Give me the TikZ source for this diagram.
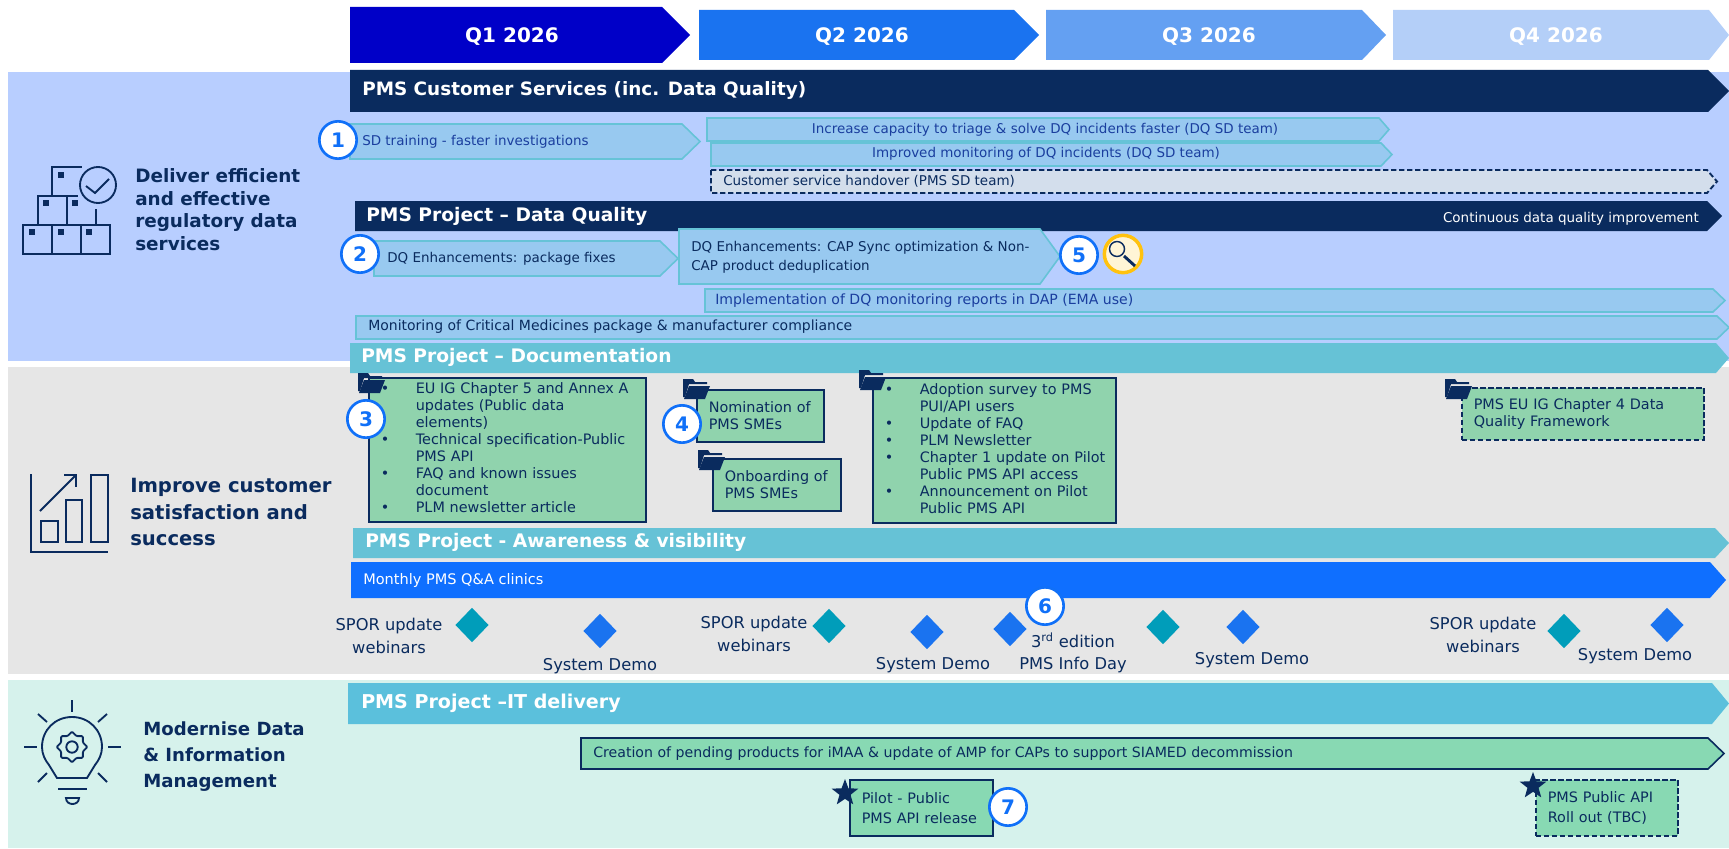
\documentclass[tikz,border=0pt]{standalone}
\usepackage{fontspec}
\setmainfont{DejaVu Sans}
\usetikzlibrary{shapes.geometric}
\definecolor{navy}{HTML}{0A2B5E}
\definecolor{bandblue}{HTML}{B8CEFF}
\definecolor{bandgrey}{HTML}{E6E6E6}
\definecolor{bandmint}{HTML}{D6F2EC}
\definecolor{qone}{HTML}{0000C8}
\definecolor{qtwo}{HTML}{1A73F0}
\definecolor{qthree}{HTML}{64A0F2}
\definecolor{qfour}{HTML}{B4CFF8}
\definecolor{skyfill}{HTML}{98C9F0}
\definecolor{skyline}{HTML}{66C3D7}
\definecolor{taskblue}{HTML}{1A3E9E}
\definecolor{handover}{HTML}{D3DEEC}
\definecolor{tealbar}{HTML}{66C2D6}
\definecolor{itbar}{HTML}{5BC0DC}
\definecolor{clinicbar}{HTML}{0F6FFF}
\definecolor{greenbox}{HTML}{90D3AD}
\definecolor{greenbar}{HTML}{88D9B3}
\definecolor{tealdiam}{HTML}{009DBA}
\definecolor{numblue}{HTML}{1070F8}
\definecolor{lensfill}{HTML}{FFF5D6}
\definecolor{lensline}{HTML}{FFC20E}
\newcommand{\arrowbar}[6]{\draw[#1] (#2,#5) -- (#3,#5) -- (#4,{(#5+#6)/2}) -- (#3,#6) -- (#2,#6) -- cycle;}
\tikzset
{
    quarter/.style = {anchor=center, text=white, font=\fontsize{15}{18}\selectfont\bfseries},
    bartitle/.style = {anchor=west, inner sep=0pt, text=white, font=\fontsize{14}{17}\selectfont\bfseries},
    goal/.style = {anchor=west, inner sep=0pt, align=left, text=navy, font=\fontsize{13.8}{#1}\selectfont\bfseries},
    task/.style = {anchor=west, inner sep=0pt, yshift=-1.2pt, align=left, text=navy, font=\fontsize{10.1}{14.2}\selectfont},
    tasksize/.style = {font=\fontsize{#1}{14.2}\selectfont},
    bluetask/.style = {task, text=taskblue},
    skybar/.style = {fill=skyfill, draw=skyline, line width=1.2pt},
    plainbar/.style = {fill=#1, draw=none},
    greenitem/.style = {rectangle, anchor=north west, inner xsep=9pt, inner ysep=0pt, align=left, fill=greenbox, draw=navy, line width=1.2pt, text=navy, font=\fontsize{10.8}{12.75}\selectfont},
    boxsize/.style 2 args = {text width=#1*0.75pt-18pt, minimum height=#2*0.75pt},
    dashline/.style = {dash pattern=on 4pt off 2pt},
    numcircle/.style = {circle, draw=numblue, line width=2pt, fill=white, text=numblue, inner sep=0pt, minimum size=28pt, font=\fontsize{15}{18}\selectfont\bfseries},
    milestone/.style = {diamond, inner sep=0pt, minimum width=25pt, minimum height=26pt, fill=#1},
    eventlabel/.style = {anchor=center, inner sep=0pt, align=center, text=navy, font=\fontsize{12.2}{17}\selectfont},
    iconline/.style = {draw=navy, line width=1.4pt},
    square/.style = {rectangle, fill=navy, inner sep=0pt, minimum size=3.8pt},
    launch/.style = {star, star points=5, star point ratio=2.4, fill=navy, inner sep=0pt, minimum size=21pt},
    folder/.pic = {
        \fill[navy] (0,0) -- (10,0) -- (12,3) -- (24,3) -- (24,5) -- (6,5) -- (2,18) -- (0,18) -- cycle;
        \fill[navy] (6,7) -- (27,7) -- (22,20) -- (1,20) -- cycle;
    }
}

\begin{document}
\begin{tikzpicture}[x=0.75pt, y=-0.75pt]
\useasboundingbox (0,0) rectangle (1729,849);
% bands
\fill[bandblue] (8,72) rectangle (1729,361);
\fill[bandgrey] (8,367) rectangle (1729,674);
\fill[bandmint] (8,680) rectangle (1729,848);

% quarters
\arrowbar{plainbar=qone}{350}{662}{690}{7}{63}
\arrowbar{plainbar=qtwo}{699}{1014}{1039}{10}{60}
\arrowbar{plainbar=qthree}{1046}{1362}{1386}{10}{60}
\arrowbar{plainbar=qfour}{1393}{1709}{1729}{10}{60}
\node[quarter] (q1) at (512,37) {Q1 2026};
\node[quarter] (q2) at (862,37) {Q2 2026};
\node[quarter] (q3) at (1209,37) {Q3 2026};
\node[quarter] (q4) at (1556,37) {Q4 2026};

% customer services
\arrowbar{plainbar=navy}{350}{1708}{1729}{70}{112}
\node[bartitle, font=\fontsize{13.8}{17}\selectfont\bfseries] (services) at (362,90) {PMS Customer Services (inc. Data Quality)};
\arrowbar{skybar}{350}{682}{700}{124}{159}
\node[bluetask] (training) at (362,140) {SD training - faster investigations};
\arrowbar{skybar}{707}{1379}{1389}{118}{141}
\node[bluetask, anchor=center] (capacity) at (1045,128) {Increase capacity to triage \& solve DQ incidents faster (DQ SD team)};
\arrowbar{skybar}{711}{1381}{1392}{143}{166}
\node[bluetask, anchor=center] (monitoring) at (1046,152) {Improved monitoring of DQ incidents (DQ SD team)};
\arrowbar{fill=handover, draw=navy, line width=1.4pt, dashline}{711}{1707}{1717}{170}{193}
\node[task] (handover) at (723,180) {Customer service handover (PMS SD team)};

% data quality
\arrowbar{plainbar=navy}{355}{1707}{1722}{201}{231}
\node[bartitle] (quality) at (366,216) {PMS Project -- Data Quality};
\node[task, text=white, anchor=east] (continuous) at (1699,217) {Continuous data quality improvement};
\arrowbar{skybar}{374}{660}{678}{241}{276}
\node[task] (fixes) at (387,257) {DQ Enhancements: package fixes};
\arrowbar{skybar}{679}{1040}{1060}{229}{284}
\node[task] (capsync) at (691,256) {DQ Enhancements: CAP Sync optimization \& Non-\\CAP product deduplication};
\arrowbar{skybar}{705}{1713}{1725}{289}{312}
\node[bluetask, tasksize=10.55] (reports) at (715,299) {Implementation of DQ monitoring reports in DAP (EMA use)};
\arrowbar{skybar}{356}{1717}{1729}{316}{339}
\node[task, tasksize=10.5] (critical) at (368,325) {Monitoring of Critical Medicines package \& manufacturer compliance};

% documentation
\arrowbar{plainbar=tealbar}{350}{1716}{1729}{343}{373}
\node[bartitle] (documentation) at (361,357) {PMS Project -- Documentation};
\node[greenitem, boxsize={277}{144}] (igbox) at (368,377) {\begin{tabular}{@{}p{26.25pt}@{}l@{}}
• & EU IG Chapter 5 and Annex A\\
 & updates (Public data\\
 & elements)\\
• & Technical specification-Public\\
 & PMS API\\
• & FAQ and known issues\\
 & document\\
• & PLM newsletter article
\end{tabular}};
\node[greenitem, boxsize={127}{52}] (nomination) at (696,389) {Nomination of\\PMS SMEs};
\node[greenitem, boxsize={128}{52}] (onboarding) at (712,458) {Onboarding of\\PMS SMEs};
\node[greenitem, boxsize={243}{145}] (survey) at (872,377) {\begin{tabular}{@{}p{26.25pt}@{}l@{}}
• & Adoption survey to PMS\\
 & PUI/API users\\
• & Update of FAQ\\
• & PLM Newsletter\\
• & Chapter 1 update on Pilot\\
 & Public PMS API access\\
• & Announcement on Pilot\\
 & Public PMS API
\end{tabular}};
\node[greenitem, boxsize={242}{52}, dashline] (framework) at (1461,387) {PMS EU IG Chapter 4 Data\\Quality Framework};
\pic (foldera) at (358,373) {folder};
\pic (folderb) at (683,379) {folder};
\pic (folderc) at (698,450) {folder};
\pic (folderd) at (859,370) {folder};
\pic (foldere) at (1445,379) {folder};

% awareness
\arrowbar{plainbar=tealbar}{353}{1715}{1729}{528}{558}
\node[bartitle] (awareness) at (365,542) {PMS Project - Awareness \& visibility};
\arrowbar{plainbar=clinicbar}{351}{1710}{1726}{562}{598}
\node[task, tasksize=10.9, text=white] (clinics) at (363,579) {Monthly PMS Q\&A clinics};
\node[milestone=tealdiam] (spora) at (472,625) {};
\node[milestone=qtwo] (demoa) at (600,631) {};
\node[milestone=tealdiam] (sporb) at (829,626) {};
\node[milestone=qtwo] (demob) at (927,632) {};
\node[milestone=qtwo] (infoday) at (1010,629) {};
\node[milestone=tealdiam] (sporc) at (1163,627) {};
\node[milestone=qtwo] (democ) at (1243,627) {};
\node[milestone=tealdiam] (spord) at (1564,631) {};
\node[milestone=qtwo] (demod) at (1667,625) {};
\node[eventlabel] (sporatext) at (389,636) {SPOR update\\webinars};
\node[eventlabel] (demoatext) at (600,666) {System Demo};
\node[eventlabel] (sporbtext) at (754,634) {SPOR update\\webinars};
\node[eventlabel] (demobtext) at (933,665) {System Demo};
\node[eventlabel] (infotext) at (1073,653) {3\textsuperscript{rd} edition\\PMS Info Day};
\node[eventlabel] (democtext) at (1252,660) {System Demo};
\node[eventlabel] (spordtext) at (1483,635) {SPOR update\\webinars};
\node[eventlabel] (demodtext) at (1635,656) {System Demo};

% it delivery
\arrowbar{plainbar=itbar}{348}{1712}{1729}{683}{724}
\node[bartitle, font=\fontsize{14.3}{17}\selectfont\bfseries] (delivery) at (361,703) {PMS Project --IT delivery};
\arrowbar{fill=greenbar, draw=navy, line width=1.2pt}{581}{1708}{1724}{738}{769}
\node[task, tasksize=10.6] (pending) at (593,752) {Creation of pending products for iMAA \& update of AMP for CAPs to support SIAMED decommission};
\node[greenitem, fill=greenbar, boxsize={143}{56}, font=\fontsize{10.8}{15}\selectfont] (pilot) at (849,779) {Pilot - Public\\PMS API release};
\node[greenitem, fill=greenbar, boxsize={142}{56}, font=\fontsize{10.8}{15}\selectfont, dashline] (rollout) at (1535,779) {PMS Public API\\Roll out (TBC)};
\node[launch] (pilotstar) at (845,793) {};
\node[launch] (rolloutstar) at (1533,786) {};

% numbers
\node[numcircle] (one) at (338,140) {1};
\node[numcircle] (two) at (360,254) {2};
\node[numcircle] (three) at (366,419) {3};
\node[numcircle] (four) at (682,424) {4};
\node[numcircle] (five) at (1079,255) {5};
\node[numcircle] (six) at (1045,606) {6};
\node[numcircle] (seven) at (1008,807) {7};
\node[circle, draw=lensline, line width=2.6pt, fill=lensfill, minimum size=28pt] (lens) at (1123,254) {};
\draw[navy, line width=1.1pt] (1117,249) circle[radius=7.5];
\draw[navy, line width=2.2pt] (1124,256) -- (1135,266);

% goals
\node[goal=16.9] (deliver) at (135,209.5) {Deliver efficient\\and effective\\regulatory data\\services};
\node[goal=20.2, font=\fontsize{14.7}{20.2}\selectfont\bfseries] (improve) at (130,512) {Improve customer\\satisfaction and\\success};
\node[goal=19.8, font=\fontsize{13.6}{19.8}\selectfont\bfseries] (modernise) at (143,756.5) {Modernise Data\\\& Information\\Management};

% boxes icon
\draw[iconline] (23,225) rectangle (52,254);
\draw[iconline] (52,225) rectangle (81,254);
\draw[iconline] (81,225) rectangle (110,254);
\draw[iconline] (38,225) -- (38,196) -- (67,196) -- (67,225);
\draw[iconline] (67,196) -- (78,196);
\draw[iconline] (96,209) -- (96,225);
\draw[iconline] (52,196) -- (52,167) -- (82,167);
\draw[iconline] (98,185) circle[radius=18];
\draw[iconline] (86,186) -- (95,193) -- (109,179);
\node[square] (sqa) at (61,175) {};
\node[square] (sqb) at (46,203) {};
\node[square] (sqc) at (75,203) {};
\node[square] (sqd) at (32,232) {};
\node[square] (sqe) at (61,232) {};
\node[square] (sqf) at (89,232) {};

% chart icon
\draw[iconline] (31,474) -- (31,552) -- (108,552);
\draw[iconline] (41,521) rectangle (58,542);
\draw[iconline] (66,500) rectangle (82,542);
\draw[iconline] (91,475) rectangle (108,542);
\draw[iconline] (40,511) -- (76,475);
\draw[iconline] (64,475) -- (76,475) -- (76,487);

% bulb icon
\draw[iconline] (72,700) -- (72,712);
\draw[iconline] (38,714) -- (47,722);
\draw[iconline] (107,714) -- (98,722);
\draw[iconline] (24,747) -- (37,747);
\draw[iconline] (108,747) -- (121,747);
\draw[iconline] (38,782) -- (47,773);
\draw[iconline] (107,782) -- (98,773);
\draw[iconline] (57,778) -- (49,765) .. controls (45,760) and (42,754) .. (42,747) .. controls (42,730) and (55,717) .. (72,717) .. controls (89,717) and (102,730) .. (102,747) .. controls (102,754) and (99,760) .. (95,765) -- (87,778) -- cycle;
\draw[iconline] (58,789) -- (87,789);
\draw[iconline] (66,798) -- (79,798) .. controls (79,806) and (66,806) .. (66,798) -- cycle;
\node[star, star points=8, star point ratio=1.3, rounded corners=0.8pt, iconline, inner sep=0pt, minimum size=23pt] (gear) at (72,747) {};
\draw[iconline] (72,747) circle[radius=5.7];
\end{tikzpicture}
\end{document}
